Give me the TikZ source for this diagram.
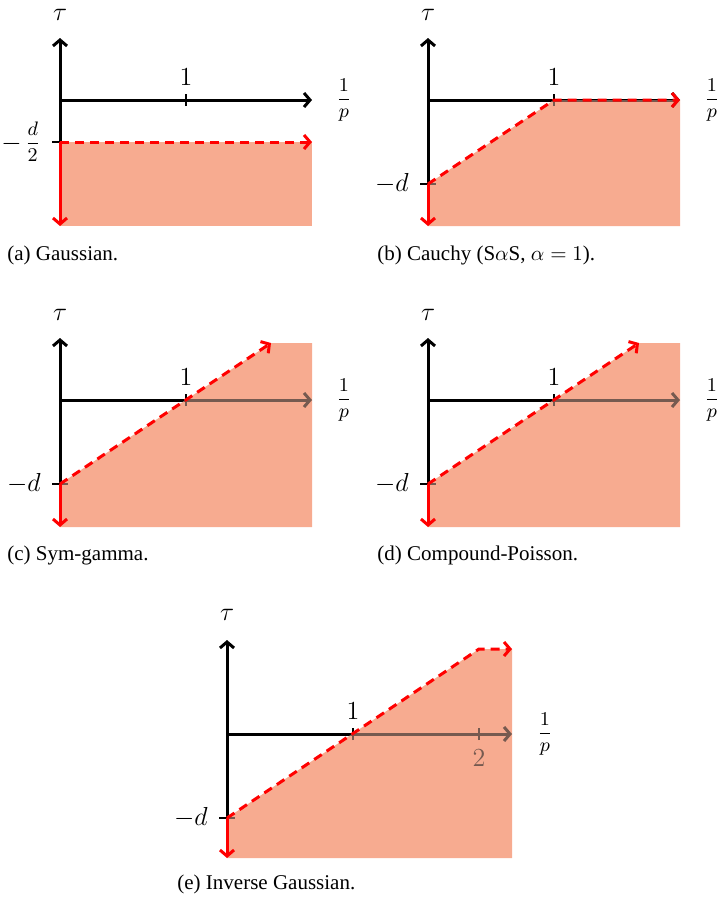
\RequirePackage{fix-cm}
\documentclass[tikz,border=0pt]{standalone}
\usepackage{fontspec}
\setmainfont{Liberation Serif}
\usetikzlibrary{arrows.meta}
\definecolor{fillc}{RGB}{247,171,144}
\definecolor{axunder}{RGB}{118,90,80}
\newcommand{\myfr}[2]{{\fontsize{9}{11}\selectfont$\displaystyle\frac{#1}{#2}$}}
\tikzset{
  tipx/.tip={Straight Barb[length=6pt,width=14pt]},
  ax/.style={line width=3pt, black, -tipx},
  axu/.style={line width=3pt, axunder, -tipx},
  tk/.style={line width=2pt, black},
  tku/.style={line width=2pt, axunder},
  region/.style={fill=fillc, draw=none},
  bnd/.style={line width=3pt, red, dash pattern=on 9pt off 6pt, -tipx},
  rdown/.style={line width=3pt, red, -tipx},
  lab/.style={font=\fontsize{12}{14}\selectfont, inner sep=0pt, scale=2.17},
  captionlbl/.style={font=\fontsize{10}{12}\selectfont, anchor=base west, inner sep=0pt, scale=2.1},
}
\begin{document}
\begin{tikzpicture}[x=1pt,y=1pt]
\useasboundingbox (0,0) rectangle (718,-898);

% ---------- (a) Gaussian
\begin{scope}[shift={(60,-100)}]
  \coordinate (oA) at (0,0);
  \draw[ax] (0,-42) -- (0,62);
  \draw[ax] (oA) -- (252,0);
  \draw[tk] (126,-6) -- (126,6);
  \draw[tk] (-8,-42) -- (8,-42);
  \node[lab] (tauA) at (0,85) {$\tau$};
  \node[lab] (oneA) at (126,23) {$1$};
  \node[lab] (pA) at (284,0) {\myfr{1}{p}};
  \node[lab, anchor=east] (dA) at (-19,-42) {$-$\hspace{1.5pt}\raisebox{0.75pt}{\myfr{d}{2}}};
  \fill[region] (0,-42) rectangle (252,-126);
  \begin{scope}
    \clip (0,-42) rectangle (252,-126);
    \draw[tku] (-8,-42) -- (8,-42);
  \end{scope}
  \draw[bnd] (0,-42) -- (252,-42);
  \draw[rdown] (0,-42) -- (0,-126);
\end{scope}

% ---------- (b) Cauchy
\begin{scope}[shift={(428,-100)}]
  \coordinate (oB) at (0,0);
  \draw[ax] (0,-84) -- (0,62);
  \draw[ax] (oB) -- (252,0);
  \draw[tk] (126,-6) -- (126,6);
  \draw[tk] (-8,-84) -- (8,-84);
  \node[lab] (tauB) at (0,85) {$\tau$};
  \node[lab] (oneB) at (126,23) {$1$};
  \node[lab] (pB) at (284,0) {\myfr{1}{p}};
  \node[lab, anchor=east] (dB) at (-19,-84) {$-d$};
  \fill[region] (0,-84) -- (126,0) -- (252,0) -- (252,-126) -- (0,-126) -- cycle;
  \begin{scope}
    \clip (0,-84) -- (126,0) -- (252,0) -- (252,-126) -- (0,-126) -- cycle;
    \draw[axu] (oB) -- (252,0);
    \draw[tku] (126,-6) -- (126,6);
    \draw[tku] (-8,-84) -- (8,-84);
  \end{scope}
  \draw[bnd] (0,-84) -- (126,0) -- (252,0);
  \draw[rdown] (0,-84) -- (0,-126);
\end{scope}

% ---------- (c) Sym-gamma
\begin{scope}[shift={(60,-400)}]
  \coordinate (oC) at (0,0);
  \draw[ax] (0,-84) -- (0,62);
  \draw[ax] (oC) -- (252,0);
  \draw[tk] (126,-6) -- (126,6);
  \draw[tk] (-8,-84) -- (8,-84);
  \node[lab] (tauC) at (0,85) {$\tau$};
  \node[lab] (oneC) at (126,23) {$1$};
  \node[lab] (pC) at (284,0) {\myfr{1}{p}};
  \node[lab, anchor=east] (dC) at (-19,-84) {$-d$};
  \fill[region] (0,-84) -- (211,57) -- (252,57) -- (252,-127) -- (0,-127) -- cycle;
  \begin{scope}
    \clip (0,-84) -- (211,57) -- (252,57) -- (252,-127) -- (0,-127) -- cycle;
    \draw[axu] (oC) -- (252,0);
    \draw[tku] (126,-6) -- (126,6);
    \draw[tku] (-8,-84) -- (8,-84);
  \end{scope}
  \draw[bnd] (0,-84) -- (211,57);
  \draw[rdown] (0,-84) -- (0,-127);
\end{scope}

% ---------- (d) Compound-Poisson
\begin{scope}[shift={(428,-400)}]
  \coordinate (oD) at (0,0);
  \draw[ax] (0,-84) -- (0,62);
  \draw[ax] (oD) -- (252,0);
  \draw[tk] (126,-6) -- (126,6);
  \draw[tk] (-8,-84) -- (8,-84);
  \node[lab] (tauD) at (0,85) {$\tau$};
  \node[lab] (oneD) at (126,23) {$1$};
  \node[lab] (pD) at (284,0) {\myfr{1}{p}};
  \node[lab, anchor=east] (dD) at (-19,-84) {$-d$};
  \fill[region] (0,-84) -- (211,57) -- (252,57) -- (252,-127) -- (0,-127) -- cycle;
  \begin{scope}
    \clip (0,-84) -- (211,57) -- (252,57) -- (252,-127) -- (0,-127) -- cycle;
    \draw[axu] (oD) -- (252,0);
    \draw[tku] (126,-6) -- (126,6);
    \draw[tku] (-8,-84) -- (8,-84);
  \end{scope}
  \draw[bnd] (0,-84) -- (211,57);
  \draw[rdown] (0,-84) -- (0,-127);
\end{scope}

% ---------- (e) Inverse Gaussian
\begin{scope}[shift={(227,-734)}]
  \coordinate (oE) at (0,0);
  \draw[ax] (0,-84) -- (0,94);
  \draw[ax] (oE) -- (285,0);
  \draw[tk] (126,-6) -- (126,6);
  \draw[tk] (252,-6) -- (252,6);
  \draw[tk] (-8,-84) -- (8,-84);
  \node[lab] (tauE) at (0,119) {$\tau$};
  \node[lab] (oneE) at (126,23) {$1$};
  \node[lab] (pE) at (318,0) {\myfr{1}{p}};
  \node[lab, anchor=east] (dE) at (-19,-84) {$-d$};
  \fill[region] (0,-84) -- (252,85) -- (285,85) -- (285,-124) -- (0,-124) -- cycle;
  \begin{scope}
    \clip (0,-84) -- (252,85) -- (285,85) -- (285,-124) -- (0,-124) -- cycle;
    \draw[axu] (oE) -- (285,0);
    \draw[tku] (126,-6) -- (126,6);
    \draw[tku] (252,-6) -- (252,6);
    \draw[tku] (-8,-84) -- (8,-84);
  \end{scope}
  \node[lab, text=axunder] (twoE) at (252,-24) {$2$};
  \draw[bnd] (0,-84) -- (252,85) -- (285,85);
  \draw[rdown] (0,-84) -- (0,-124);
\end{scope}

% ---------- captions
\node[captionlbl] (capA) at (7,-260) {(a) Gaussian.};
\node[captionlbl] (capB) at (377,-260) {(b) Cauchy (S$\alpha$S, $\alpha=1$).};
\node[captionlbl] (capC) at (7,-560) {(c) Sym-gamma.};
\node[captionlbl] (capD) at (377,-560) {(d) Compound-Poisson.};
\node[captionlbl] (capE) at (177,-889) {(e) Inverse Gaussian.};
\end{tikzpicture}
\end{document}
